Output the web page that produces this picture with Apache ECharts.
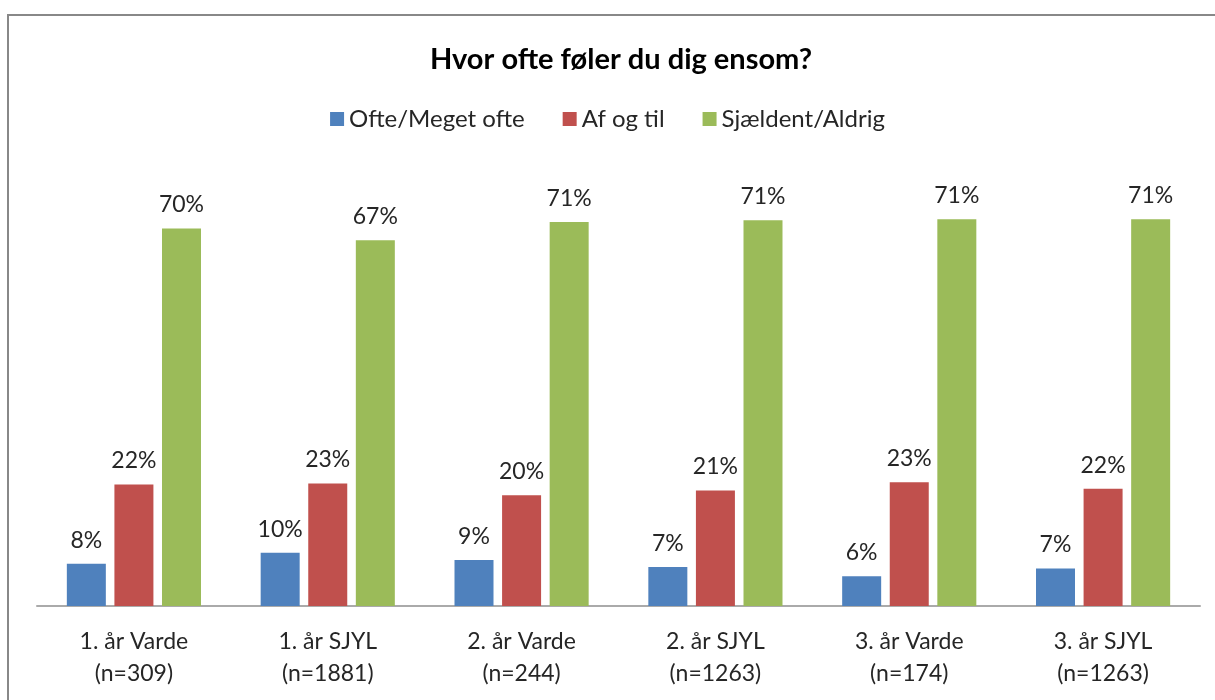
<!DOCTYPE html>
<html>
<head>
<meta charset="utf-8">
<script src="https://cdn.jsdelivr.net/npm/echarts@6/dist/echarts.min.js"></script>
<style>
  html, body { margin: 0; padding: 0; background: #fff; }
  #chart { width: 1215px; height: 700px; }
</style>
</head>
<body>
<div id="chart"></div>
<script>
// kategorier og serier
var categories = ['1. år Varde\n(n=309)', '1. år SJYL\n(n=1881)', '2. år Varde\n(n=244)',
                  '2. år SJYL\n(n=1263)', '3. år Varde\n(n=174)', '3. år SJYL\n(n=1263)'];
var seriesNames = ['Ofte/Meget ofte', 'Af og til', 'Sjældent/Aldrig'];
var ofteValues = [7.8, 9.8, 8.5, 7.2, 5.5, 6.9];
var afOgTilValues = [22.4, 22.6, 20.4, 21.3, 22.8, 21.6];
var sjaeldentValues = [69.6, 67.4, 70.8, 71.1, 71.3, 71.3];
var colors = ['#4F81BD', '#C0504D', '#9BBB59'];

var font = 'Lato, "Open Sans", sans-serif';

function barSeries(name, data, color) {
  return {
    name: name,
    type: 'bar',
    data: data,
    barWidth: 39,
    barGap: '22%',
    itemStyle: { color: color },
    label: {
      show: true,
      position: 'top',
      distance: 12,
      color: '#262626',
      fontFamily: font,
      fontSize: 23,
      formatter: function (p) { return Math.round(p.value) + '%'; }
    }
  };
}

var myChart = echarts.init(document.getElementById('chart'));
myChart.setOption({
  animation: false,
  color: colors,
  title: {
    text: 'Hvor ofte føler du dig ensom?',
    left: 616,
    textAlign: 'center',
    top: 40,
    textStyle: { fontFamily: font, fontSize: 29, fontWeight: 'bold', color: '#000' }
  },
  legend: {
    top: 102,
    left: 'center',
    itemWidth: 14,
    itemHeight: 14,
    itemGap: 38,
    icon: 'rect',
    textStyle: { fontFamily: font, fontSize: 24, color: '#262626' },
    data: seriesNames
  },
  graphic: [{
    type: 'rect',
    shape: { x: 8, y: 15, width: 1300, height: 800 },
    style: { fill: 'none', stroke: '#888', lineWidth: 2 },
    silent: true
  }],
  grid: { left: 37, right: 15, top: 172, bottom: 94 },
  xAxis: {
    type: 'category',
    data: categories,
    axisTick: { show: false },
    axisLine: { lineStyle: { color: '#aaa', width: 2 } },
    axisLabel: {
      fontFamily: font, fontSize: 23, color: '#262626',
      lineHeight: 32, margin: 20
    }
  },
  yAxis: {
    type: 'value',
    min: 0,
    max: 80,
    show: false,
    splitLine: { show: false }
  },
  series: [
    barSeries(seriesNames[0], ofteValues, colors[0]),
    barSeries(seriesNames[1], afOgTilValues, colors[1]),
    barSeries(seriesNames[2], sjaeldentValues, colors[2])
  ]
});
</script>
</body>
</html>
